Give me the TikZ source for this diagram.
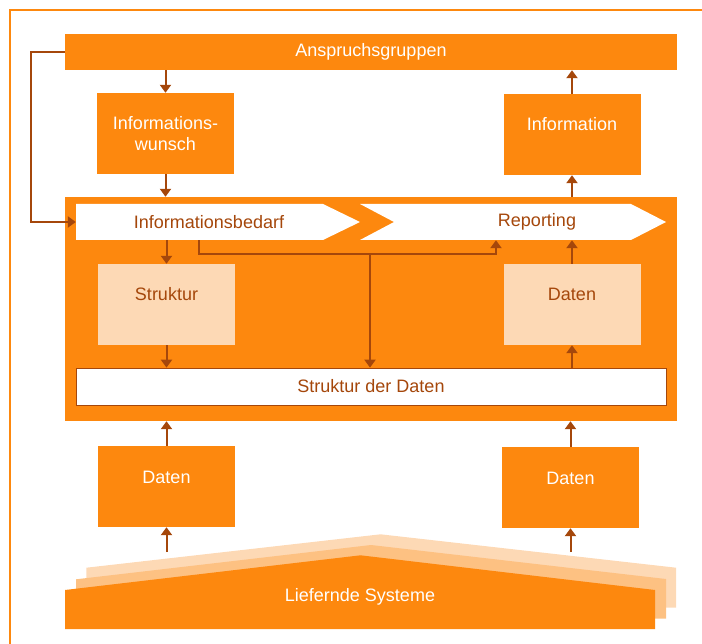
\documentclass[tikz,border=0pt]{standalone}
\usepackage{fontspec}
\setmainfont{Liberation Sans}
\usetikzlibrary{arrows.meta}
\definecolor{orng}{HTML}{FD880E}
\definecolor{peach}{HTML}{FDD9B5}
\definecolor{peachmid}{HTML}{FDC182}
\definecolor{brn}{HTML}{A5470B}
\tikzstyle{bar} = [rectangle, fill=orng, text=white, 
    minimum width=612pt, minimum height=36pt, inner sep=0pt]
\tikzstyle{block} = [rectangle, fill=orng, text=white, align=center,
    minimum width=137pt, minimum height=81pt, inner sep=0pt]
\tikzstyle{lblock} = [block, fill=peach, text=brn]
\tikzstyle{raised} = [text height=13pt, text depth=20pt]
\tikzstyle{arrowtext} = [text=brn, minimum height=36pt, inner sep=0pt]

\begin{document}
\begin{tikzpicture}[x=1pt,y=-1pt,>={Triangle[width=11pt,length=8pt]},
                    link/.style={->,draw=brn,line width=2pt},
                    font=\fontsize{18}{21}\selectfont]
  \useasboundingbox (0,0) rectangle (702,644);
  \draw[orng,line width=2pt] (10,644) -- (10,10) -- (702,10);

  \node[bar] (ansp) at (371,52) {Anspruchsgruppen};
  \node[block] (wunsch) at (165.5,133.5) {Informations-\\wunsch};
  \node[block,raised] (info) at (572,134.5) {Information};
  \node[fill=orng,minimum width=612pt,minimum height=224pt,inner sep=0pt] (kern) at (371,309) {};

  \fill[white] (76,204) -- (323,204) -- (360,222) -- (323,240) -- (76,240) -- cycle;
  \fill[white] (360,204) -- (631,204) -- (666,222) -- (631,240) -- (360,240) -- (394,222) -- cycle;
  \node[arrowtext,minimum width=266pt] (bedarf) at (209,222) {Informationsbedarf};
  \node[arrowtext,minimum width=286pt] (report) at (537,222) {Reporting};

  \node[lblock,raised] (struktur) at (166.5,304.5) {Struktur};
  \node[lblock,raised] (daten) at (572,304.5) {Daten};
  \node[fill=white,draw=brn,line width=0.7pt,text=brn,minimum width=590pt,
        minimum height=37pt,inner sep=0pt] (sdd) at (371,386.5) {Struktur der Daten};

  \node[block,raised] (datenl) at (166.5,486.5) {Daten};
  \node[block,raised] (datenr) at (570.5,487.5) {Daten};

  \fill[peach] (86.4,567.7) -- (380.6,534.3) -- (676,567.7) -- (676,607.7) -- (86.4,607.7) -- cycle;
  \fill[peachmid] (76,579.3) -- (371,545) -- (666,579) -- (666,618.7) -- (76,618.7) -- cycle;
  \fill[orng] (65,590) -- (360.5,555.3) -- (655,590) -- (655,629) -- (65,629) -- cycle;
  \node[text=white] (lief) at (360,597) {Liefernde Systeme};

  \coordinate (liefer) at (360,552);
  \coordinate (k1) at (199,254);
  \coordinate (k2) at (496,254);
  \coordinate (k3) at (370,254);

  \draw[link] (ansp.south -| wunsch.north) -- (wunsch.north);
  \draw[link] (wunsch.south) -- (wunsch.south |- kern.north);
  \draw[link] (kern.north -| info.south) -- (info.south);
  \draw[link] (info.north) -- (info.north |- ansp.south);
  \draw[link] (ansp.west) -- ++(-34,0) |- (bedarf.west);
  \draw[link] (bedarf.south -| struktur.north) -- (struktur.north);
  \draw[link] (struktur.south) -- (struktur.south |- sdd.north);
  \draw[link] (bedarf.south -| k1) -- (k1) -- (k2) -- (report.south -| k2);
  \draw[link] (k3) -- (k3 |- sdd.north);
  \draw[link] (daten.north) -- (daten.north |- report.south);
  \draw[link] (sdd.north -| daten.south) -- (daten.south);
  \draw[link] (datenl.north) -- (datenl.north |- kern.south);
  \draw[link] (datenr.north) -- (datenr.north |- kern.south);
  \draw[link] (liefer -| datenl.south) -- (datenl.south);
  \draw[link] (liefer -| datenr.south) -- (datenr.south);
\end{tikzpicture}
\end{document}
